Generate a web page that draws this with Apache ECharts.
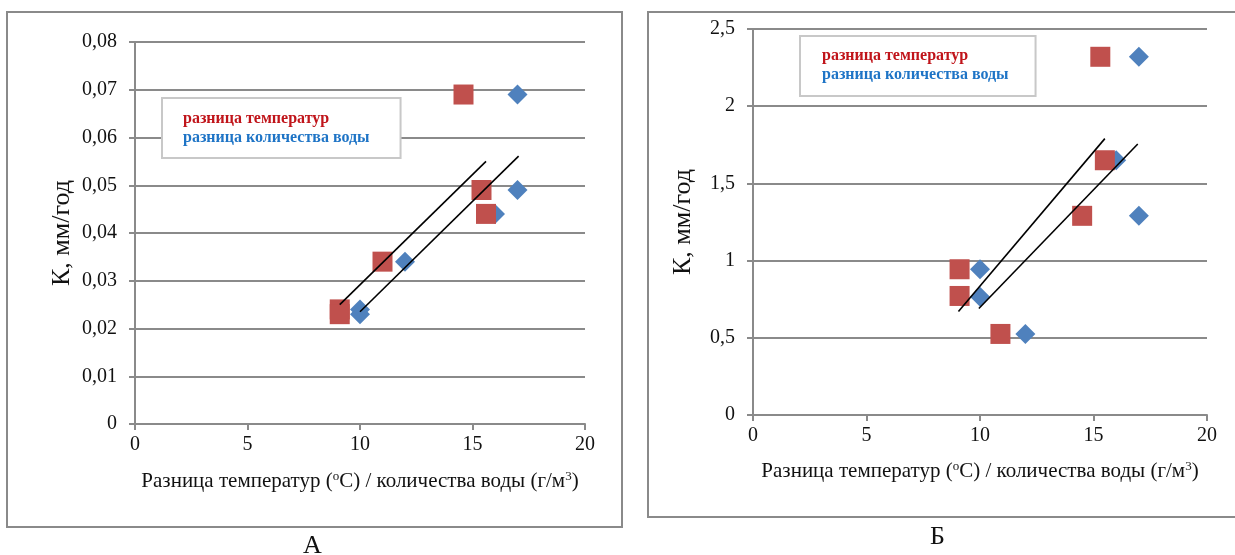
<!DOCTYPE html>
<html><head><meta charset="utf-8">
<script src="https://cdn.jsdelivr.net/npm/echarts@6/dist/echarts.min.js"></script>
<style>html,body{margin:0;padding:0;background:#fff}#c{width:1235px;height:555px}</style>
</head><body><div id="c"></div>
<script>
// ---- Data ----
const seriesNames = ['разница температур', 'разница количества воды'];
// Chart A
const tempA_x = [9.1, 9.1, 11, 14.6, 15.4, 15.6];
const tempA_y = [0.024, 0.023, 0.034, 0.069, 0.049, 0.044];
const waterA_x = [10, 10, 12, 17, 17, 16];
const waterA_y = [0.024, 0.023, 0.034, 0.069, 0.049, 0.044];
const trendA1_x = [9.1, 15.6];
const trendA1_y = [0.025, 0.055];
const trendA2_x = [10, 17.05];
const trendA2_y = [0.0235, 0.0561];
// Chart B
const tempB_x = [15.3, 15.5, 14.5, 9.1, 9.1, 10.9];
const tempB_y = [2.32, 1.65, 1.29, 0.944, 0.771, 0.525];
const waterB_x = [17, 16, 17, 10, 10, 12];
const waterB_y = [2.32, 1.65, 1.29, 0.944, 0.766, 0.525];
const trendB1_x = [9.05, 15.5];
const trendB1_y = [0.67, 1.79];
const trendB2_x = [9.95, 16.95];
const trendB2_y = [0.69, 1.755];
// Axis / labels
const xMin = 0, xMax = 20, xStep = 5;
const yA = {min: 0, max: 0.08, step: 0.01};
const yB = {min: 0, max: 2.5, step: 0.5};
const yName = 'К, мм/год';
const xName = 'Разница температур ({sup|o}C) / количества воды (г/м{sup|3})';
const panelLabels = ['А', 'Б'];

const zip = (xs, ys) => xs.map((x, i) => [x, ys[i]]);
const SERIF = '"Liberation Serif", "DejaVu Serif", serif';
const GRAY = '#8a8a8a';
const RED = '#c0504d', BLUE = '#4f81bd';

function xAxis(gi, nameGap) {
  return {
    type: 'value', gridIndex: gi, min: xMin, max: xMax, interval: xStep,
    name: xName, nameLocation: 'middle', nameGap: nameGap,
    nameTextStyle: {fontFamily: SERIF, fontSize: 21, color: '#111',
      rich: {sup: {fontFamily: SERIF, fontSize: 13, color: '#111', verticalAlign: 'top', padding: [0,0,9,0]}}},
    axisLine: {show: true, lineStyle: {color: GRAY, width: 2}},
    axisTick: {show: true, length: 6, lineStyle: {color: GRAY, width: 2}},
    axisLabel: {fontFamily: SERIF, fontSize: 20, color: '#111', margin: 11},
    splitLine: {show: false}
  };
}
function yAxis(gi, cfg, nameGap, dec) {
  return {
    type: 'value', gridIndex: gi, min: cfg.min, max: cfg.max, interval: cfg.step,
    name: yName, nameLocation: 'middle', nameGap: nameGap,
    nameTextStyle: {fontFamily: SERIF, fontSize: 26, color: '#111'},
    axisLine: {show: true, lineStyle: {color: GRAY, width: 2}},
    axisTick: {show: true, length: 6, lineStyle: {color: GRAY, width: 2}},
    axisLabel: {fontFamily: SERIF, fontSize: 20, color: '#111', margin: 18,
      formatter: v => (Math.abs(v) < 1e-12 ? '0' : (dec === null ? String(+v.toFixed(2)) : v.toFixed(dec))).replace('.', ',')},
    splitLine: {show: true, lineStyle: {color: GRAY, width: 2}}
  };
}
function legend(left, top, padding) {
  return {
    orient: 'vertical', left: left, top: top, icon: 'none', itemWidth: 0, itemHeight: 16, itemGap: 3,
    padding: padding, borderColor: '#c8c8c8', borderWidth: 2, backgroundColor: '#fff',
    selectedMode: false,
    textStyle: {fontFamily: SERIF, fontSize: 16, fontWeight: 'bold'},
    data: [
      {name: seriesNames[0], textStyle: {color: '#c0141a'}},
      {name: seriesNames[1], textStyle: {color: '#1e74c6'}}
    ]
  };
}
function scatter(name, gi, data, sym, color) {
  return {type: 'scatter', name: name, xAxisIndex: gi, yAxisIndex: gi, data: data,
    symbol: sym, symbolSize: 20, itemStyle: {color: color, opacity: 1}, z: 3};
}
function trend(gi, data) {
  return {type: 'line', xAxisIndex: gi, yAxisIndex: gi, data: data, symbol: 'none',
    lineStyle: {color: '#000', width: 1.6}, z: 4, silent: true};
}

const option = {
  animation: false,
  backgroundColor: '#fff',
  grid: [
    {left: 135, top: 42, width: 450, height: 382},
    {left: 753, top: 29, width: 454, height: 386}
  ],
  xAxis: [xAxis(0, 46), xAxis(1, 45)],
  yAxis: [yAxis(0, yA, 60, 2), yAxis(1, yB, 57, null)],
  legend: [legend(162, 98, [13, 31, 12, 16]), legend(800, 36, [12, 27, 13, 17])],
  series: [
    scatter(seriesNames[1], 0, zip(waterA_x, waterA_y), 'diamond', BLUE),
    scatter(seriesNames[0], 0, zip(tempA_x, tempA_y), 'rect', RED),
    trend(0, zip(trendA1_x, trendA1_y)),
    trend(0, zip(trendA2_x, trendA2_y)),
    scatter(seriesNames[1], 1, zip(waterB_x, waterB_y), 'diamond', BLUE),
    scatter(seriesNames[0], 1, zip(tempB_x, tempB_y), 'rect', RED),
    trend(1, zip(trendB1_x, trendB1_y)),
    trend(1, zip(trendB2_x, trendB2_y))
  ],
  graphic: [
    {type: 'rect', shape: {x: 7, y: 12, width: 615, height: 515}, style: {fill: 'none', stroke: GRAY, lineWidth: 2}, z: -1},
    {type: 'rect', shape: {x: 648, y: 12, width: 600, height: 505}, style: {fill: 'none', stroke: GRAY, lineWidth: 2}, z: -1},
    {type: 'text', left: 303, top: 533, style: {text: panelLabels[0], font: '26px ' + SERIF, fill: '#111'}},
    {type: 'text', left: 930, top: 524, style: {text: panelLabels[1], font: '26px ' + SERIF, fill: '#111'}}
  ]
};
echarts.init(document.getElementById('c')).setOption(option);
</script></body></html>
